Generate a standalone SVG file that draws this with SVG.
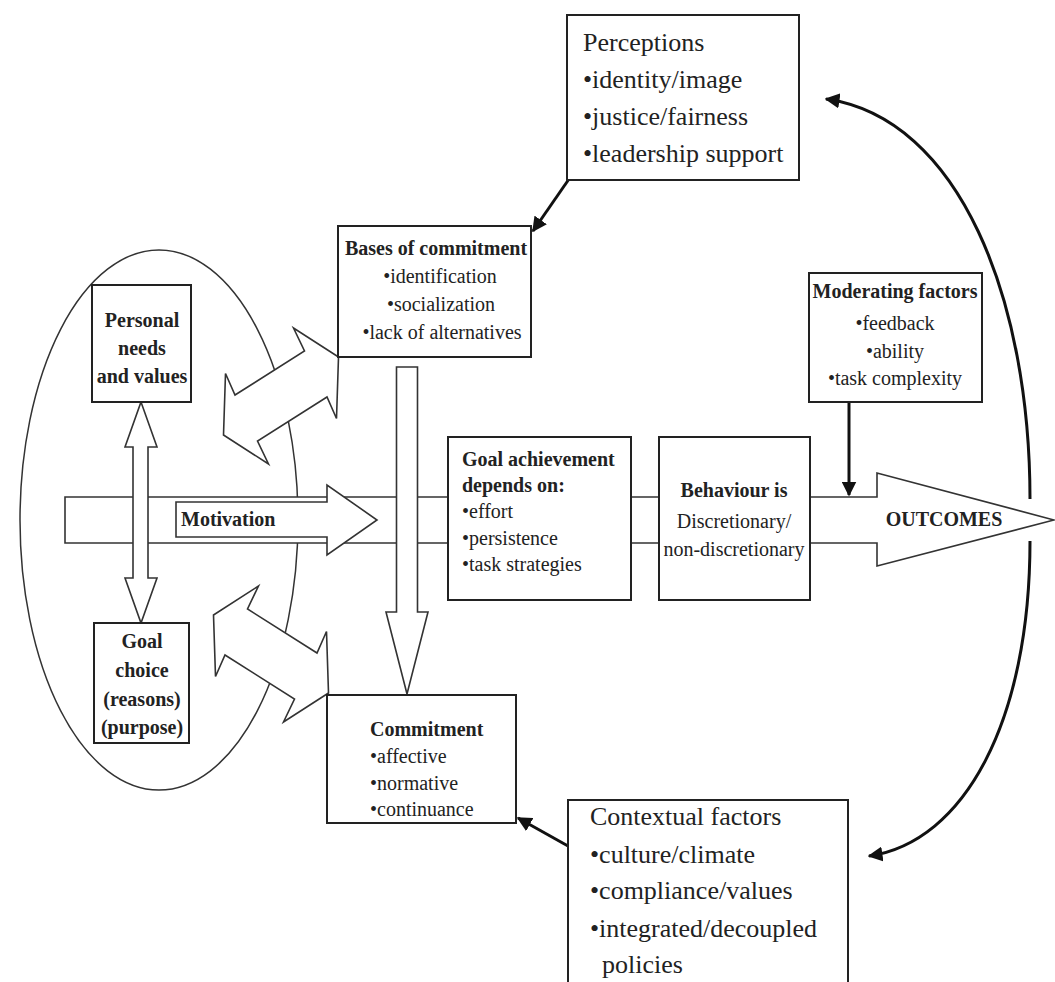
<svg xmlns="http://www.w3.org/2000/svg" width="1055" height="982" viewBox="0 0 1055 982">
  <style>
    text { font-family: "Liberation Serif", "Times New Roman", serif; fill: #222; }
    .b { font-weight: bold; }
    .s { font-size: 20px; }
    .l { font-size: 26px; }
    .c { text-anchor: middle; }
    .box { fill: #fff; stroke: #222; stroke-width: 2; }
    .blk { fill: #fff; stroke: #333; stroke-width: 1.6; stroke-linejoin: miter; }
    .thin { fill: none; stroke: #333; stroke-width: 1.5; }
    .link { fill: none; stroke: #111; stroke-width: 3; }
  </style>
  <defs>
    <marker id="head" viewBox="0 0 10 10" refX="9" refY="5" markerWidth="5" markerHeight="5" orient="auto" markerUnits="strokeWidth">
      <path d="M0,0 L10,5 L0,10 Z" fill="#111"/>
    </marker>
    <!-- slanted two-headed block arrow, centred on 0,0 -->
    <polygon id="dbl" points="57.5,-39 55.5,22.5 46,1 -23.5,45 -12.5,68 -57.5,39 -55.5,-22.5 -46,-1 23.5,-45 12.5,-68"/>
  </defs>

  <rect width="1055" height="982" fill="#fff"/>

  <!-- individual sphere -->
  <ellipse class="thin" cx="159" cy="520" rx="139" ry="270"/>

  <!-- main motivation band ending in the outcomes head -->
  <g id="band">
    <polygon class="blk" points="65,497 877,497 877,473 1054,520 877,566 877,543 65,543"/>
    <text class="b s c" x="944" y="526">OUTCOMES</text>
  </g>

  <g id="connectors">
    <!-- feedback loop from outcomes -->
    <path class="link" d="M1030,499 C1030,300 960,118 826,99" marker-end="url(#head)"/>
    <path class="link" d="M1030,541 C1030,720 965,842 869,856" marker-end="url(#head)"/>
    <!-- perceptions to bases of commitment -->
    <line class="link" x1="569" y1="179" x2="533" y2="231" marker-end="url(#head)"/>
    <!-- contextual factors to commitment -->
    <line class="link" x1="568" y1="846" x2="518" y2="818" marker-end="url(#head)"/>
    <!-- moderating factors onto the band -->
    <line class="link" x1="849" y1="402" x2="849" y2="495" marker-end="url(#head)"/>
    <!-- personal needs <-> goal choice -->
    <polygon class="blk" points="141,402 157,447 148,447 148,578 157,578 141,623 125,578 133,578 133,447 125,447"/>
    <!-- bases of commitment down to commitment -->
    <polygon class="blk" points="396.5,367 417.5,367 417.5,612 428,612 407,694 386,612 396.5,612"/>
    <!-- sphere <-> bases / commitment -->
    <use href="#dbl" class="blk" transform="translate(281,396)"/>
    <use href="#dbl" class="blk" transform="translate(271,654) scale(1,-1)"/>
  </g>

  <g id="motivation">
    <polygon class="blk" points="176,502 327,502 327,485 377,520 327,555 327,537 176,537"/>
    <text class="b s" x="181" y="526">Motivation</text>
  </g>

  <g id="perceptions">
    <rect class="box" x="567" y="15" width="232" height="165"/>
    <text class="l" x="583" y="51">Perceptions</text>
    <text class="l" x="583" y="88">•identity/image</text>
    <text class="l" x="583" y="125">•justice/fairness</text>
    <text class="l" x="583" y="162">•leadership support</text>
  </g>

  <g id="bases">
    <rect class="box" x="338" y="226" width="193" height="131"/>
    <text class="b s c" x="436" y="255">Bases of commitment</text>
    <text class="s c" x="440" y="283">•identification</text>
    <text class="s c" x="441" y="311">•socialization</text>
    <text class="s c" x="442" y="339">•lack of alternatives</text>
  </g>

  <g id="personal">
    <rect class="box" x="92" y="285" width="99" height="117"/>
    <text class="b s c" x="142" y="327">Personal</text>
    <text class="b s c" x="142" y="355">needs</text>
    <text class="b s c" x="142" y="383">and values</text>
  </g>

  <g id="goalchoice">
    <rect class="box" x="94" y="623" width="95" height="120"/>
    <text class="b s c" x="142" y="648">Goal</text>
    <text class="b s c" x="142" y="677">choice</text>
    <text class="b s c" x="142" y="706">(reasons)</text>
    <text class="b s c" x="142" y="734">(purpose)</text>
  </g>

  <g id="achievement">
    <rect class="box" x="448" y="437" width="183" height="163"/>
    <text class="b s" x="462" y="466">Goal achievement</text>
    <text class="b s" x="462" y="492">depends on:</text>
    <text class="s" x="462" y="518">•effort</text>
    <text class="s" x="462" y="545">•persistence</text>
    <text class="s" x="462" y="571">•task strategies</text>
  </g>

  <g id="behaviour">
    <rect class="box" x="659" y="437" width="151" height="163"/>
    <text class="b s c" x="734" y="497">Behaviour is</text>
    <text class="s c" x="734" y="528">Discretionary/</text>
    <text class="s c" x="734" y="556">non-discretionary</text>
  </g>

  <g id="moderating">
    <rect class="box" x="809" y="273" width="173" height="129"/>
    <text class="b s c" x="895" y="298">Moderating factors</text>
    <text class="s c" x="895" y="330">•feedback</text>
    <text class="s c" x="895" y="358">•ability</text>
    <text class="s c" x="895" y="385">•task complexity</text>
  </g>

  <g id="commitment">
    <rect class="box" x="327" y="695" width="189" height="128"/>
    <text class="b s" x="370" y="736">Commitment</text>
    <text class="s" x="370" y="763">•affective</text>
    <text class="s" x="370" y="790">•normative</text>
    <text class="s" x="370" y="816">•continuance</text>
  </g>

  <g id="contextual">
    <rect class="box" x="568" y="800" width="280" height="200"/>
    <text class="l" x="590" y="825">Contextual factors</text>
    <text class="l" x="590" y="863">•culture/climate</text>
    <text class="l" x="590" y="899">•compliance/values</text>
    <text class="l" x="590" y="937">•integrated/decoupled</text>
    <text class="l" x="602" y="973">policies</text>
  </g>
</svg>
